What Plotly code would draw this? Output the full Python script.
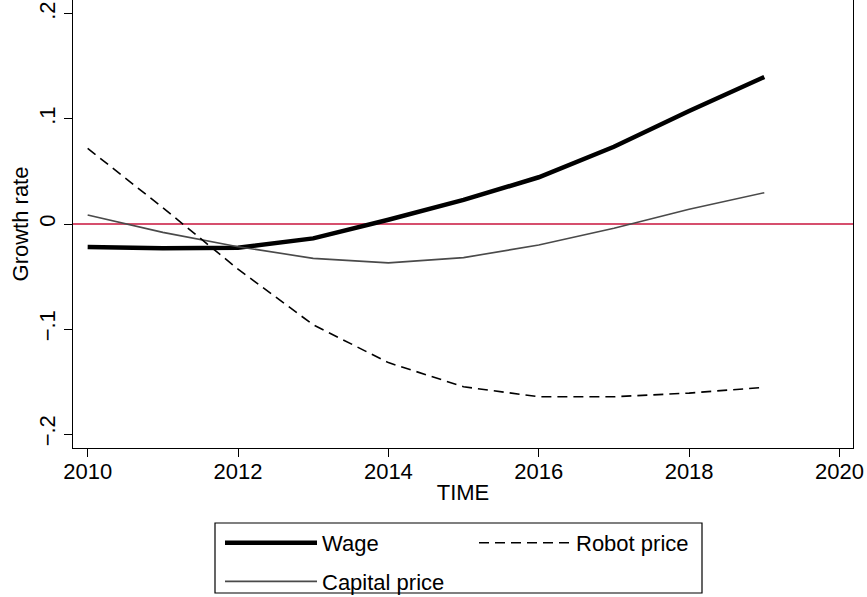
import plotly.graph_objects as go

years = [2010, 2011, 2012, 2013, 2014, 2015, 2016, 2017, 2018, 2019]
wage = [-0.022, -0.023, -0.0225, -0.0137, 0.004, 0.0229, 0.0445, 0.0736, 0.1076, 0.140]
robot_price = [0.072, 0.0155, -0.043, -0.096, -0.132, -0.155, -0.1645, -0.1645, -0.161, -0.1555]
capital_price = [0.0086, -0.008, -0.0216, -0.0327, -0.037, -0.032, -0.020, -0.004, 0.014, 0.0298]

x_ticks = [2010, 2012, 2014, 2016, 2018, 2020]
y_tickvals = [0.2, 0.1, 0.0, -0.1, -0.2]
y_ticktext = [".2", ".1", "0", "\u2212.1", "\u2212.2"]

FONT = "Liberation Sans, Arial, Helvetica, sans-serif"
FS = 22

fig = go.Figure()
fig.add_trace(go.Scatter(x=years, y=wage, mode="lines", name="Wage",
                         line=dict(color="black", width=4.5), legend="legend",
                         legendgroup="a"))
fig.add_trace(go.Scatter(x=years, y=capital_price, mode="lines", name="Capital price",
                         line=dict(color="#4a4a4a", width=1.6), legend="legend",
                         legendgroup="b"))
fig.add_trace(go.Scatter(x=years, y=robot_price, mode="lines", name="Robot price",
                         line=dict(color="black", width=1.6, dash="10px,6px"),
                         legend="legend2"))

fig.add_shape(type="line", xref="x domain", yref="y", x0=0, x1=1, y0=0, y1=0,
              line=dict(color="#c8143c", width=1.6), layer="below")

# legend frame
fig.add_shape(type="rect", xref="paper", yref="paper",
              x0=(215 - 73) / 780, x1=(702 - 73) / 780,
              y0=(448 - 593) / 448, y1=(448 - 523) / 448,
              line=dict(color="black", width=1.2), fillcolor="white", layer="below")

legend_common = dict(font=dict(family=FONT, size=FS, color="black"),
                     bgcolor="rgba(0,0,0,0)", borderwidth=0, itemwidth=92,
                     xanchor="left", yanchor="top", tracegroupgap=7)

fig.update_layout(
    width=867, height=597,
    margin=dict(l=73, r=14, t=0, b=149, autoexpand=False),
    paper_bgcolor="white", plot_bgcolor="white",
    font=dict(family=FONT, size=FS, color="black"),
    showlegend=True,
    legend=dict(x=(220 - 73) / 780, y=(448 - 522) / 448, **legend_common),
    legend2=dict(x=(474 - 73) / 780, y=(448 - 522) / 448, **legend_common),
    xaxis=dict(range=[2009.805, 2020.18], tickvals=x_ticks, ticks="outside", ticklen=8,
               tickcolor="black", showline=True, linecolor="black", linewidth=1.2,
               mirror=True, showgrid=False, zeroline=False, automargin=False,
               ticklabelstandoff=-5,
               title=dict(text="TIME", standoff=2, font=dict(size=FS)),
               tickfont=dict(size=FS)),
    yaxis=dict(range=[-0.2133, 0.2133], tickvals=y_tickvals, ticktext=y_ticktext,
               tickangle=-90, ticks="outside", ticklen=8, tickcolor="black",
               showline=True, linecolor="black", linewidth=1.2, mirror=True,
               showgrid=False, zeroline=False, automargin=False,
               title=dict(text="Growth rate", standoff=0, font=dict(size=FS)),
               tickfont=dict(size=FS)),
)

fig.write_html("out.html", config={"displayModeBar": False},
               post_script="document.body.style.margin='0';document.body.style.overflow='hidden';")
